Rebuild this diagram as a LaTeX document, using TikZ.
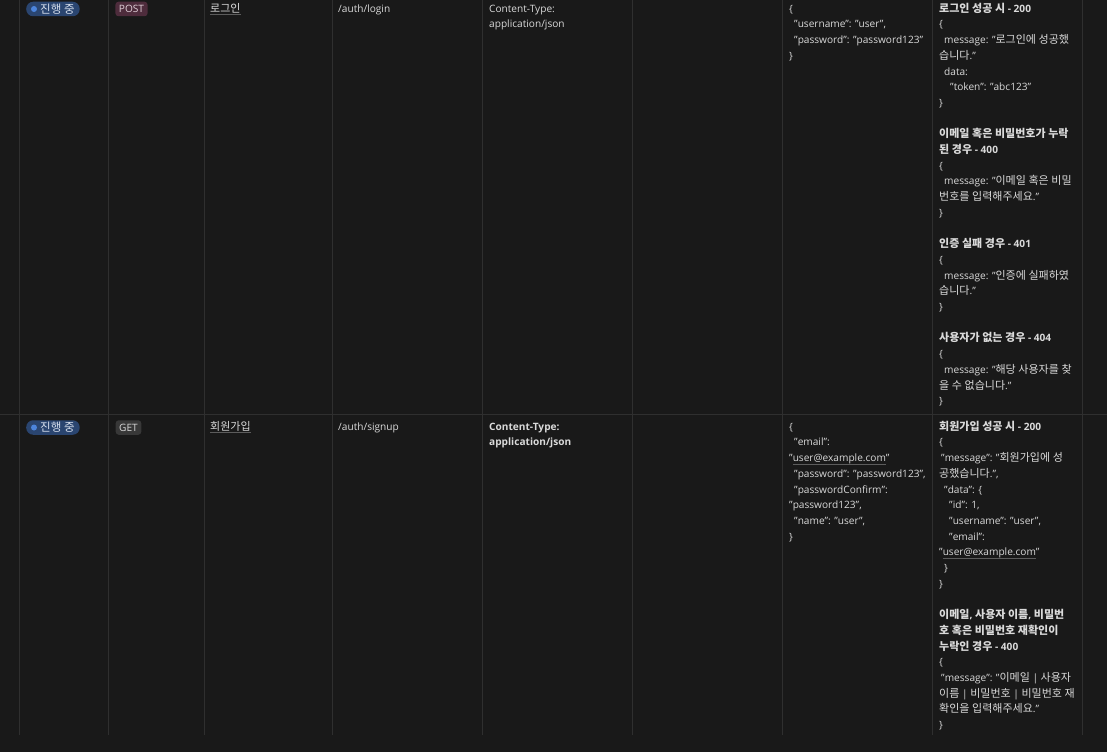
\documentclass[tikz,border=0pt]{standalone}
\usepackage{fontspec}
\setmainfont{Open Sans}[Scale=0.92]
\newfontfamily\krfont{Noto Sans CJK KR}

% Hangul automatisch in der CJK-Schrift
\XeTeXinterchartokenstate=1
\newXeTeXintercharclass\krclass
\newcount\hcnt
\hcnt="AC00
\loop
  \XeTeXcharclass\hcnt=\krclass
  \ifnum\hcnt<"D7A3 \advance\hcnt by 1
\repeat
\XeTeXinterchartoks 0 \krclass = {\krfont}
\XeTeXinterchartoks 4095 \krclass = {\krfont}
\XeTeXinterchartoks \krclass 0 = {\rmfamily}
\XeTeXinterchartoks \krclass 4095 = {\rmfamily}

\definecolor{bgc}{HTML}{191919}
\definecolor{gridc}{HTML}{2F2F2F}
\definecolor{txt}{HTML}{DADADA}
\definecolor{linkc}{HTML}{5C5C5C}
\definecolor{pillc}{HTML}{2A4570}
\definecolor{pilltxt}{HTML}{D6DEEC}
\definecolor{dotc}{HTML}{4C84DC}
\definecolor{postc}{HTML}{4E2C3C}
\definecolor{posttxt}{HTML}{E2D2DA}
\definecolor{getc}{HTML}{383838}

% unterstrichener Text
\newcommand\ulink[1]{\setbox0\hbox{#1}\rlap{\color{linkc}\rule[-2.6pt]{\wd0}{0.7pt}}\box0}
\newcommand\ind[1]{\hspace*{#1pt}}
\newcommand\fst{\rule{0pt}{10.5pt}}

\tikzset{
  cell/.style={anchor=north west, inner sep=0pt, align=left, text=txt,
    font=\fontsize{11}{15.7}\selectfont},
  pill/.style={anchor=west, fill=pillc, rounded corners=7pt, minimum height=14.5pt,
    inner xsep=5pt, inner ysep=0pt, text=pilltxt, font=\fontsize{11.5}{13}\selectfont},
  method/.style={rounded corners=3pt, minimum height=14.5pt, inner xsep=3.5pt,
    inner ysep=0pt, font=\fontsize{11}{12}\selectfont}
}

\begin{document}
\begin{tikzpicture}[x=1pt,y=-1pt]
    % Hintergrund
    \fill[bgc] (0,0) rectangle (1107,752);
    \useasboundingbox (0,0) rectangle (1107,752);

    % Rasterlinien
    \foreach \x in {19,108,204,332,482,632,782,932,1082} {
        \draw[gridc, line width=1pt] (\x+0.5,0) -- (\x+0.5,735);
    }
    \draw[gridc, line width=1pt] (0,414.5) -- (1107,414.5);

    % Zeile 1
    \node[pill] (status1) at (26,9) {\hspace{9pt}진행 중};
    \fill[dotc] ([xshift=8pt]status1.west) circle (3pt);
    \node[method, fill=postc, text=posttxt] (method1) at (131.5,9) {POST};
    \node[cell] (name1) at (210,1.5) {\fst\ulink{로그인}};
    \node[cell] (path1) at (338,1.5) {\fst/auth/login};
    \node[cell] (header1) at (489,1.5) {\fst Content-Type:\\application/json};
    \node[cell] (body1) at (789,1.5) {\fst\{\\
        \ind{5}"username": "user",\\
        \ind{5}"password": "password123"\\
        \}};
    \node[cell] (resp1) at (939,1.5) {\fst\textbf{로그인 성공 시 - 200}\\
        \{\\
        \ind{5}message: "로그인에 성공했\\
        습니다."\\
        \ind{5}data:\\
        \ind{11}"token": "abc123"\\
        \}\\
        \\
        \textbf{이메일 혹은 비밀번호가 누락}\\
        \textbf{된 경우 - 400}\\
        \{\\
        \ind{5}message: "이메일 혹은 비밀\\
        번호를 입력해주세요."\\
        \}\\
        \\
        \textbf{인증 실패 경우 - 401}\\
        \{\\
        \ind{5}message: "인증에 실패하였\\
        습니다."\\
        \}\\
        \\
        \textbf{사용자가 없는 경우 - 404}\\
        \{\\
        \ind{5}message: "해당 사용자를 찾\\
        을 수 없습니다."\\
        \}};

    % Zeile 2
    \node[pill] (status2) at (26,427.5) {\hspace{9pt}진행 중};
    \fill[dotc] ([xshift=8pt]status2.west) circle (3pt);
    \node[method, fill=getc, text=txt] (method2) at (128.5,427.5) {GET};
    \node[cell] (name2) at (210,419.5) {\fst\ulink{회원가입}};
    \node[cell] (path2) at (338,419.5) {\fst/auth/signup};
    \node[cell, font=\fontsize{11}{15.7}\selectfont\bfseries] (header2) at (489,419.5)
        {\fst Content-Type:\\application/json};
    \node[cell] (body2) at (789,419.5) {\fst\{\\
        \ind{5}"email":\\
        "\ulink{user@example.com}"\\
        \ind{5}"password": "password123",\\
        \ind{5}"passwordConfirm":\\
        "password123",\\
        \ind{5}"name": "user",\\
        \}};
    \node[cell] (resp2) at (939,419.5) {\fst\textbf{회원가입 성공 시 - 200}\\
        \{\\
        \ind{2}"message": "회원가입에 성\\
        공했습니다.",\\
        \ind{5}"data": \{\\
        \ind{10}"id": 1,\\
        \ind{10}"username": "user",\\
        \ind{10}"email":\\
        "\ulink{user@example.com}"\\
        \ind{5}\}\\
        \}\\
        \\
        \textbf{이메일, 사용자 이름, 비밀번}\\
        \textbf{호 혹은 비밀번호 재확인이}\\
        \textbf{누락인 경우 - 400}\\
        \{\\
        \ind{2}"message": "이메일 | 사용자\\
        이름 | 비밀번호 | 비밀번호 재\\
        확인을 입력해주세요."\\
        \}};
\end{tikzpicture}
\end{document}
